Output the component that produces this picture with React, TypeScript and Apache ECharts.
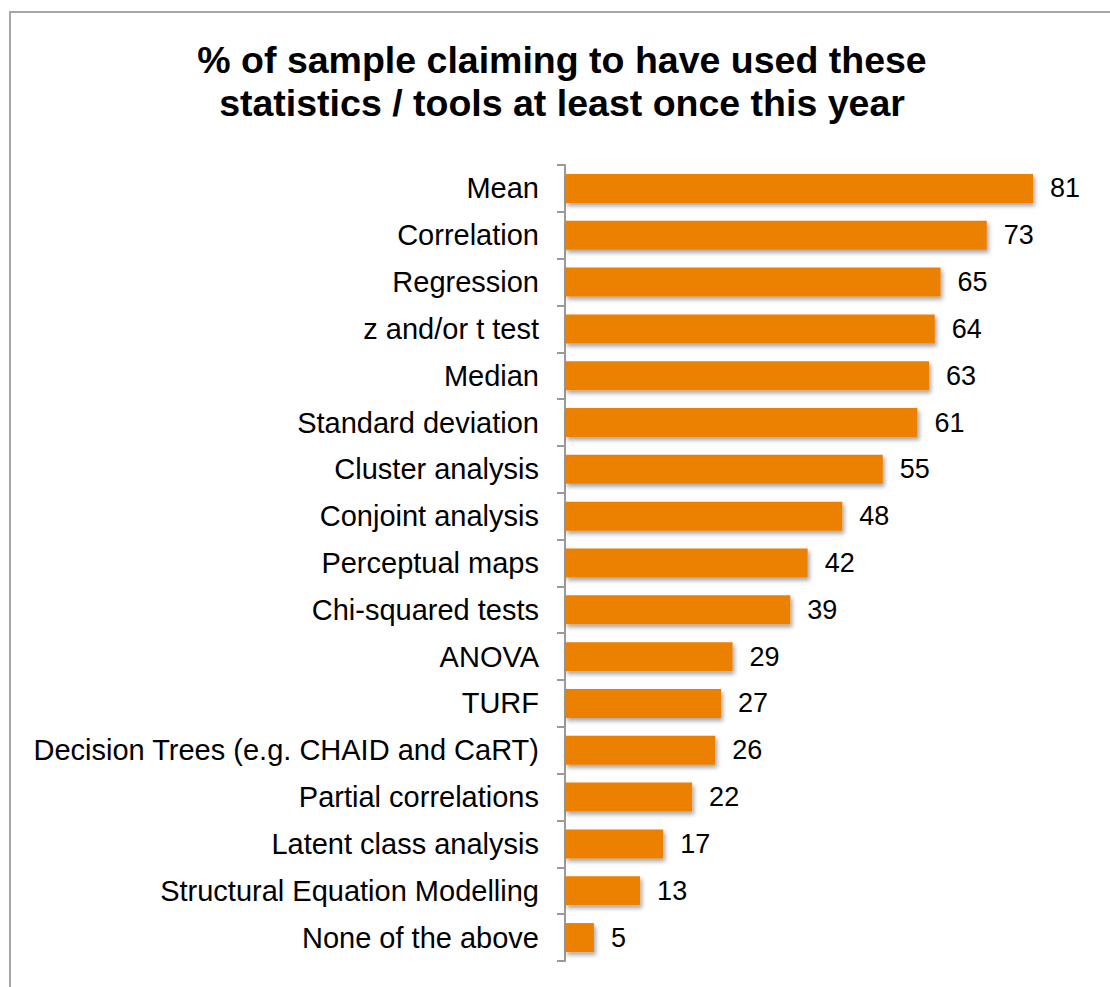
import React, { useEffect, useRef } from "react";
import * as echarts from "echarts";

const titleLines = [
  "% of sample claiming to have used these",
  "statistics / tools at least once this year",
];

const categories = [
  "Mean",
  "Correlation",
  "Regression",
  "z and/or t test",
  "Median",
  "Standard deviation",
  "Cluster analysis",
  "Conjoint analysis",
  "Perceptual maps",
  "Chi-squared tests",
  "ANOVA",
  "TURF",
  "Decision Trees (e.g. CHAID and CaRT)",
  "Partial correlations",
  "Latent class analysis",
  "Structural Equation Modelling",
  "None of the above",
];

const values = [81, 73, 65, 64, 63, 61, 55, 48, 42, 39, 29, 27, 26, 22, 17, 13, 5];

const FONT = "'Liberation Sans', Arial, sans-serif";

export default function App() {
  const ref = useRef<HTMLDivElement>(null);
  useEffect(() => {
    if (!ref.current) return;
    const chart = echarts.init(ref.current, null, { renderer: "svg" });
    chart.setOption({
      animation: false,
      backgroundColor: "#ffffff",
      title: {
        text: titleLines.join("\n"),
        left: 557,
        top: 33,
        textAlign: "center",
        textStyle: {
          fontFamily: FONT,
          fontSize: 37.5,
          fontWeight: "bold",
          color: "#000",
          lineHeight: 43,
        },
      },
      graphic: [
        {
          type: "rect",
          shape: { x: 10, y: 12, width: 1300, height: 1200 },
          style: { fill: "none", stroke: "#a6a6a6", lineWidth: 2 },
          silent: true,
        },
      ],
      grid: { left: 565, top: 165, width: 520, height: 796, containLabel: false },
      xAxis: {
        type: "value",
        min: 0,
        max: 90,
        show: false,
        splitLine: { show: false },
      },
      yAxis: {
        type: "category",
        data: categories,
        inverse: true,
        axisLine: { show: true, lineStyle: { color: "#9a9a9a", width: 2 } },
        axisTick: { show: true, length: 8, lineStyle: { color: "#9a9a9a", width: 2 } },
        axisLabel: {
          fontFamily: FONT,
          fontSize: 29,
          color: "#000",
          margin: 26,
          padding: [5, 0, 0, 0],
        },
      },
      series: [
        {
          type: "bar",
          data: values,
          barWidth: 29,
          itemStyle: {
            color: "#ec8006",
            shadowColor: "rgba(0,0,0,0.35)",
            shadowBlur: 4,
            shadowOffsetX: 2,
            shadowOffsetY: 3,
          },
          label: {
            show: true,
            position: "right",
            distance: 17,
            fontFamily: FONT,
            fontSize: 27,
            color: "#000",
            padding: [5, 0, 0, 0],
          },
        },
      ],
    });
    return () => chart.dispose();
  }, []);
  return (
    <div
      ref={ref}
      style={{ position: "fixed", left: 0, top: 0, width: 1110, height: 987 }}
    />
  );
}
